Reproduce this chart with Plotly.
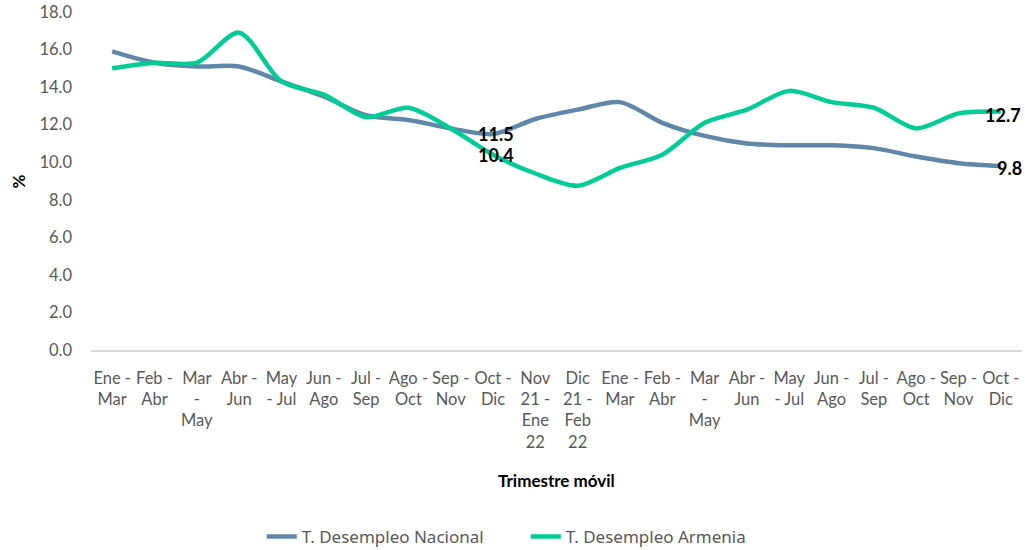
import plotly.graph_objects as go

categories = ["Ene -<br>Mar", "Feb -<br>Abr", "Mar<br>-<br>May", "Abr -<br>Jun", "May<br>- Jul",
              "Jun -<br>Ago", "Jul -<br>Sep", "Ago -<br>Oct", "Sep -<br>Nov", "Oct -<br>Dic",
              "Nov<br>21 -<br>Ene<br>22", "Dic<br>21 -<br>Feb<br>22",
              "Ene -<br>Mar", "Feb -<br>Abr", "Mar<br>-<br>May", "Abr -<br>Jun", "May<br>- Jul",
              "Jun -<br>Ago", "Jul -<br>Sep", "Ago -<br>Oct", "Sep -<br>Nov", "Oct -<br>Dic"]
nacional = [15.9, 15.3, 15.1, 15.1, 14.3, 13.5, 12.5, 12.25, 11.8, 11.5, 12.3, 12.8,
            13.2, 12.1, 11.4, 11.0, 10.9, 10.9, 10.75, 10.3, 9.95, 9.8]
armenia = [15.0, 15.3, 15.3, 16.9, 14.3, 13.6, 12.4, 12.9, 11.8, 10.4, 9.4, 8.75,
           9.7, 10.4, 12.1, 12.8, 13.8, 13.2, 12.9, 11.8, 12.6, 12.7]
yticks = [0, 2, 4, 6, 8, 10, 12, 14, 16, 18]

x = list(range(len(categories)))
blue = "#5f87a8"
green = "#00cc96"
FONT = "Lato, Open Sans, sans-serif"

fig = go.Figure()
fig.add_trace(go.Scatter(x=x, y=nacional, mode="lines", name="T. Desempleo Nacional",
                         line=dict(color=blue, width=4.5, shape="spline", smoothing=0.8)))
fig.add_trace(go.Scatter(x=x, y=armenia, mode="lines", name="T. Desempleo Armenia",
                         line=dict(color=green, width=4.5, shape="spline", smoothing=0.8)))

lab_font = dict(family=FONT, size=18, color="#000000")
annots = [
    (9, nacional[9], 3, 0),
    (9, armenia[9], 3, 0),
    (21, armenia[21], 2, -3),
    (21, nacional[21], 9, -2),
]
for xi, yi, xs, ys in annots:
    fig.add_annotation(x=xi, y=yi, text="<b>%.1f</b>" % yi, showarrow=False,
                       xshift=xs, yshift=ys, font=lab_font, xanchor="center", yanchor="middle")

# axis titles placed as annotations
fig.add_annotation(x=0.5, y=-0.385, xref="paper", yref="paper", text="<b>Trimestre móvil</b>",
                   showarrow=False, font=dict(family=FONT, size=17, color="#000000"),
                   xanchor="center", yanchor="middle")
fig.add_annotation(x=-0.078, y=0.5, xref="paper", yref="paper", text="<b>%</b>",
                   showarrow=False, textangle=-90, font=dict(family=FONT, size=17, color="#000000"),
                   xanchor="center", yanchor="middle")

fig.update_layout(
    width=1025, height=550,
    margin=dict(l=91, r=3, t=12, b=200, autoexpand=False),
    paper_bgcolor="white", plot_bgcolor="white",
    font=dict(family=FONT, size=16.5, color="#595959"),
    showlegend=True,
    legend=dict(orientation="h", x=0.467, xanchor="center", y=-0.553, yanchor="middle",
                font=dict(family="Noto Sans, sans-serif", size=17, color="#595959"),
                entrywidth=219, entrywidthmode="pixels", tracegroupgap=0),
    xaxis=dict(range=[-0.5, 21.5], tickmode="array", tickvals=x, ticktext=categories,
               tickangle=0, showgrid=False, showline=True, linecolor="#d9d9d9", linewidth=1.5,
               ticks="", zeroline=False, automargin=False, ticklabelstandoff=12),
    yaxis=dict(range=[0, 18], tickmode="array", tickvals=yticks,
               ticktext=["%.1f" % v for v in yticks], showgrid=False, zeroline=False,
               showline=False, ticks="", ticklabelstandoff=18, automargin=False),
)

fig.write_html("out.html", config={"displayModeBar": False},
               post_script="document.body.style.margin='0';document.body.style.overflow='hidden';")
